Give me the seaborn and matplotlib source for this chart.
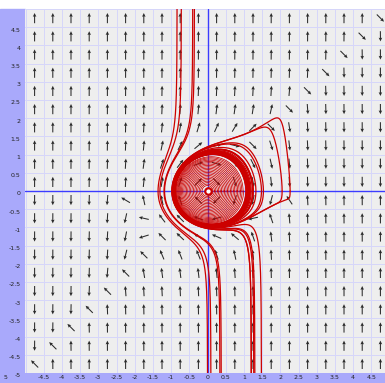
import numpy as np
import matplotlib
matplotlib.use("Agg")
import matplotlib.pyplot as plt
import seaborn as sns

# Phase plane of  x' = y,  y' = -x + K * y * (y - x) * (x^2 + y^2)^2
K_NL = 0.16

# Trajectory seeds: (x, y, direction) where direction 0 = both ways
seed_x = [-0.72, -0.36, 0.0, 0.34, 1.27, 1.30, 1.48, 2.27, 2.05]
seed_y = [5.0, 5.0, -5.0, -5.0, -5.0, -5.0, -5.0, 0.0, 0.0]
seed_dir = [-1, -1, 1, 1, 1, 1, 1, 0, 0]

# Closed orbits filling the inner disk (start radius on the positive x axis)
ring_r = [0.15, 0.19, 0.23, 0.27, 0.31, 0.35, 0.39, 0.43, 0.47, 0.51, 0.55,
          0.59, 0.63, 0.67, 0.71, 0.75, 0.79, 0.83, 0.87, 0.91, 0.95, 0.99]

x_ticks = [-4.5, -4, -3.5, -3, -2.5, -2, -1.5, -1, -0.5, 0, 0.5, 1, 1.5, 2, 2.5, 3, 3.5, 4, 4.5]
y_ticks = [-5, -4.5, -4, -3.5, -3, -2.5, -2, -1.5, -1, -0.5, 0, 0.5, 1, 1.5, 2, 2.5, 3, 3.5, 4, 4.5]


def field(x, y):
    r2 = x * x + y * y
    return y, -x + K_NL * y * (y - x) * r2 * r2


def trajectory(x0, y0, direction, ds=0.004, n=9000, stop_loop=False):
    def nf(x, y):
        u, v = field(x, y)
        s = np.hypot(u, v) + 1e-12
        return direction * u / s, direction * v / s
    pts = [(x0, y0)]
    x, y = x0, y0
    for i in range(n):
        k1 = nf(x, y)
        k2 = nf(x + ds / 2 * k1[0], y + ds / 2 * k1[1])
        k3 = nf(x + ds / 2 * k2[0], y + ds / 2 * k2[1])
        k4 = nf(x + ds * k3[0], y + ds * k3[1])
        xn = x + ds / 6 * (k1[0] + 2 * k2[0] + 2 * k3[0] + k4[0])
        yn = y + ds / 6 * (k1[1] + 2 * k2[1] + 2 * k3[1] + k4[1])
        pts.append((xn, yn))
        if stop_loop and i > 50 and y > 0 >= yn and xn > 0:
            break
        x, y = xn, yn
        if abs(x) > 5.5 or abs(y) > 5.5:
            break
    return np.array(pts)


sns.set_style("white")
fig = plt.figure(figsize=(3.85, 3.83), dpi=100)
fig.patch.set_facecolor("white")

# Blue axis strips on the left and bottom
strip = "#a9a9fb"
fig.patches.append(plt.Rectangle((0, 0), 25.5 / 385, 374 / 383, transform=fig.transFigure,
                                 color=strip, zorder=-10))
fig.patches.append(plt.Rectangle((0, 0), 1, 10 / 383, transform=fig.transFigure,
                                 color=strip, zorder=-10))

ax = fig.add_axes([25.5 / 385, 10 / 383, 359.5 / 385, 364 / 383])
ax.set_facecolor("#eeeeee")
ax.set_xlim(-5, 4.876)
ax.set_ylim(-5, 5)

g = np.arange(-5, 5.01, 0.5)
for v in g:
    ax.axvline(v, color="#d6d6fa", lw=0.7, zorder=1)
    ax.axhline(v, color="#d6d6fa", lw=0.7, zorder=1)
ax.axvline(0, color="#3c3cff", lw=1.0, zorder=2)
ax.axhline(0, color="#3c3cff", lw=1.0, zorder=2)

c = np.arange(-4.75, 4.8, 0.5)
X, Y = np.meshgrid(c, c)
U, V = field(X, Y)
N = np.hypot(U, V)
ax.quiver(X, Y, U / N, V / N, pivot="middle", angles="xy", scale_units="xy",
          scale=1 / 0.28, width=0.0029, headwidth=3.4, headlength=3.6,
          headaxislength=3.2, color="#2a2a2a", zorder=3)

red = "#cc0000"
for sx, sy, sd in zip(seed_x, seed_y, seed_dir):
    dirs = [1, -1] if sd == 0 else [sd]
    for d in dirs:
        p = trajectory(sx, sy, d)
        sns.lineplot(x=p[:, 0], y=p[:, 1], sort=False, estimator=None, ax=ax,
                     color=red, lw=0.9, zorder=4)
for r in ring_r:
    p = trajectory(r, 0.0, 1, ds=0.004, n=3000, stop_loop=True)
    sns.lineplot(x=p[:, 0], y=p[:, 1], sort=False, estimator=None, ax=ax,
                 color=red, lw=0.55, zorder=4)
ax.scatter([0], [0], s=22, facecolor="white", edgecolor=red, linewidth=1.6, zorder=5)

ax.set_xticks([])
ax.set_yticks([])
for s in ax.spines.values():
    s.set_visible(False)

lab = dict(fontsize=4.5, color="#222222", clip_on=False, zorder=20)
tf = ax.get_xaxis_transform()
for t in x_ticks:
    ax.text(t, -0.006, f"{t:g}", transform=tf, ha="center", va="top", **lab)
ax.text(-5.55, -0.006, "5", transform=tf, ha="center", va="top", **lab)
ty = ax.get_yaxis_transform()
for t in y_ticks:
    ax.text(-0.014, t - 0.08, f"{t:g}", transform=ty, ha="right", va="center", **lab)

fig.savefig("out.png", dpi=100)
